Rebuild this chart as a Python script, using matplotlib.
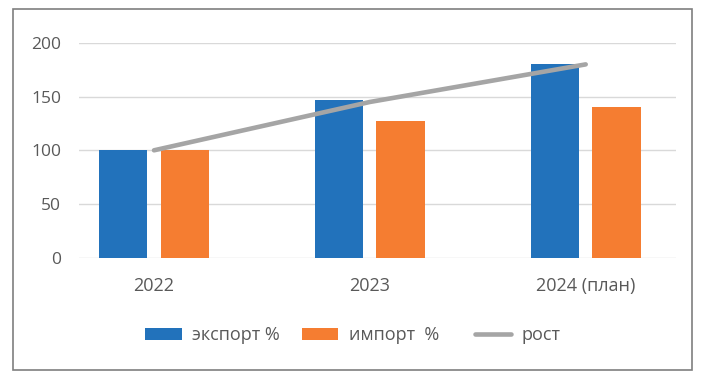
import numpy as np
import matplotlib.pyplot as plt
from matplotlib.patches import Rectangle

# data
years = ['2022', '2023', '2024 (план)']
export_pct = [100, 147, 180]
import_pct = [100, 127, 140]
growth = [100, 145, 180]

plt.rcParams['font.family'] = ['Open Sans', 'DejaVu Sans']
txt_col = '#595959'
c_exp = '#2272BB'
c_imp = '#F57D31'
c_line = '#A5A5A5'

fig = plt.figure(figsize=(7.06, 3.77), dpi=100)
ax = fig.add_axes([0.1119, 0.3164, 0.8452, 0.5698])

x = np.arange(len(years))
w = 0.224
off = 0.1427
ax.bar(x - off, export_pct, w, color=c_exp, label='экспорт %', zorder=2)
ax.bar(x + off, import_pct, w, color=c_imp, label='импорт  %', zorder=2)
ax.plot(x, growth, color=c_line, lw=3.3, solid_capstyle='round', label='рост', zorder=3)

ax.set_xlim(-0.3475, 2.417)
ax.set_ylim(0, 200)
ax.set_yticks([0, 50, 100, 150, 200])
ax.set_xticks(x)
ax.set_xticklabels(years)
ax.grid(axis='y', color='#D9D9D9', lw=1, zorder=0)
ax.tick_params(axis='y', length=0, pad=13, labelsize=12.5, labelcolor=txt_col)
ax.tick_params(axis='x', length=0, pad=14, labelsize=13, labelcolor=txt_col)
for s in ax.spines.values():
    s.set_visible(False)

handles, labels = ax.get_legend_handles_labels()
order = [1, 2, 0]
fig.legend([handles[i] for i in order], ['экспорт %', 'импорт  %   ', 'рост'],
           loc='center', bbox_to_anchor=(0.5, 1 - 335 / 377), ncol=3, frameon=False,
           fontsize=13, labelcolor=txt_col, handlelength=2.0, handleheight=0.65,
           handletextpad=0.6, columnspacing=1.2)

fig.patches.append(Rectangle((0.0184, 0.0178), 0.9622, 0.9584, transform=fig.transFigure,
                             fill=False, edgecolor='#7F7F7F', lw=1.2))

fig.savefig('out.png', dpi=100)
